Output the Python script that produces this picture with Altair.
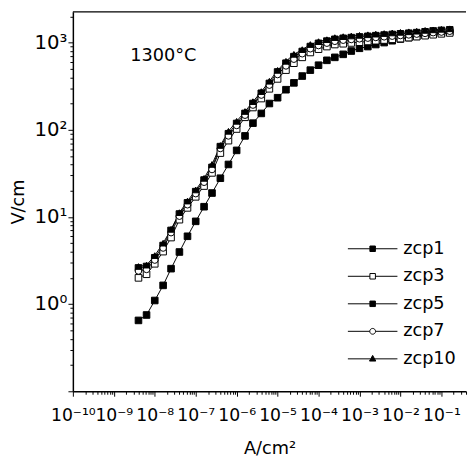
import json
import altair as alt
import pandas as pd

# ---- data ----
current = [4.0e-9, 6.3e-9, 1.0e-8, 1.6e-8, 2.5e-8, 4.0e-8, 6.3e-8, 1.0e-7, 1.6e-7, 2.5e-7,
           4.0e-7, 6.3e-7, 1.0e-6, 1.6e-6, 2.5e-6, 4.0e-6, 6.3e-6, 1.0e-5, 1.6e-5, 2.5e-5,
           4.0e-5, 6.3e-5, 1.0e-4, 1.6e-4, 2.5e-4, 4.0e-4, 6.3e-4, 1.0e-3, 1.6e-3, 2.5e-3,
           4.0e-3, 6.3e-3, 1.0e-2, 1.6e-2, 2.5e-2, 4.0e-2, 6.3e-2, 1.0e-1, 1.6e-1]

zcp1 = [0.65, 0.75, 1.1, 1.64, 2.55, 3.96, 6.0, 8.9, 13.1, 18.8,
        27.8, 40, 58, 85, 119, 154, 200, 233, 288, 345,
        413, 483, 550, 626, 677, 733, 800, 860, 900, 950,
        1000, 1050, 1100, 1140, 1180, 1220, 1260, 1290, 1330]
zcp3 = [2.0, 2.2, 2.9, 4.0, 5.8, 9.3, 12.7, 17, 22.6, 32,
        54, 75, 102, 139, 180, 228, 295, 383, 483, 580,
        677, 770, 840, 900, 950, 970, 990, 1010, 1030, 1050,
        1070, 1090, 1110, 1140, 1170, 1200, 1230, 1260, 1290]
zcp5 = [2.6, 2.7, 3.4, 4.7, 7.0, 10.8, 14.5, 19.5, 26.5, 37,
        64, 90, 118, 154, 200, 262, 340, 460, 580, 690,
        790, 900, 980, 1040, 1090, 1120, 1140, 1160, 1180, 1200,
        1220, 1240, 1260, 1280, 1300, 1330, 1360, 1380, 1400]
zcp7 = [2.4, 2.5, 3.2, 4.4, 6.6, 10.2, 13.8, 18.5, 25, 35,
        61, 85, 112, 147, 192, 250, 325, 430, 540, 645,
        745, 850, 925, 985, 1035, 1065, 1085, 1105, 1125, 1145,
        1165, 1185, 1205, 1225, 1250, 1275, 1300, 1320, 1350]
zcp10 = [2.7, 2.8, 3.6, 5.0, 7.2, 11.2, 15.2, 20.4, 27.7, 40,
         66, 96, 125, 162, 210, 274, 360, 480, 610, 733,
         830, 950, 1025, 1080, 1140, 1170, 1190, 1210, 1230, 1250,
         1270, 1290, 1310, 1330, 1350, 1380, 1400, 1420, 1440]

series_names = ["zcp1", "zcp3", "zcp5", "zcp7", "zcp10"]
series_values = [zcp1, zcp3, zcp5, zcp7, zcp10]
annotation = "1300°C"

x_tick_labels = ["10⁻¹⁰", "10⁻⁹", "10⁻⁸", "10⁻⁷", "10⁻⁶", "10⁻⁵", "10⁻⁴", "10⁻³", "10⁻²", "10⁻¹"]
y_tick_labels = ["", "10⁰", "10¹", "10²", "10³"]

# ---- table ----
rows = []
for name, vals in zip(series_names, series_values):
    for c, v in zip(current, vals):
        rows.append({"series": name, "current": c, "field": v})
df = pd.DataFrame(rows)

# ---- styling ----
FONT = "DejaVu Sans"
W, H = 400, 386

x_ticks = [m * 10.0 ** e for e in range(-10, 0) for m in range(1, 10) if m * 10.0 ** e <= 0.4]
y_ticks = [m * 10.0 ** e for e in range(-1, 4) for m in range(1, 10) if m * 10.0 ** e <= 2200]

LOG = "(log(datum.value)/LN10)"
DEC = f"abs({LOG} - round({LOG})) < 0.001"

x_axis = alt.Axis(
    title="A/cm²", values=x_ticks,
    labelExpr=f"{DEC} ? {json.dumps(x_tick_labels, ensure_ascii=False)}[round({LOG})+10] : ''",
    tickSize={"condition": {"test": DEC, "value": 5}, "value": 3},
    labelFontSize=17.5, labelPadding=11, titleFontSize=18, titlePadding=16,
    labelOverlap=False, labelFlush=False, labelBound=False, grid=False,
)
y_axis = alt.Axis(
    title="V/cm", values=y_ticks,
    labelExpr=f"{DEC} ? {json.dumps(y_tick_labels, ensure_ascii=False)}[round({LOG})+1] : ''",
    tickSize={"condition": {"test": DEC, "value": 5}, "value": 3},
    labelFontSize=20, labelPadding=1, titleFontSize=18, titlePadding=7,
    labelOverlap=False, labelFlush=False, labelBound=False, grid=False,
)

x_scale = alt.Scale(type="log", domain=[1e-10, 0.4], nice=False)
y_scale = alt.Scale(type="log", domain=[0.1, 2250], nice=False)

X = alt.X("current:Q", scale=x_scale, axis=x_axis)
Y = alt.Y("field:Q", scale=y_scale, axis=y_axis)

base = alt.Chart(df)

lines = base.mark_line(color="black", strokeWidth=1).encode(x=X, y=Y, detail="series:N")

fill_range = ["black", "white", "black", "white", "black"]
stroke_range = ["black", "black", "black", "black", "black"]
plot_shapes = ["square", "square", "square", "circle", "triangle-up"]

points = base.mark_point(filled=True, stroke="black", strokeWidth=1, size=45, opacity=1).encode(
    x=X, y=Y,
    shape=alt.Shape("series:N", scale=alt.Scale(domain=series_names, range=plot_shapes), legend=None),
    fill=alt.Fill("series:N", scale=alt.Scale(domain=series_names, range=fill_range), legend=None),
)

legend_paths = [
    "M-3.6,0H-0.4M0.4,0H3.6M-0.4,-0.4H0.4V0.4H-0.4Z",
    "M-3.6,0H-0.4M0.4,0H3.6M-0.4,-0.4H0.4V0.4H-0.4Z",
    "M-3.6,0H-0.4M0.4,0H3.6M-0.4,-0.4H0.4V0.4H-0.4Z",
    "M-3.6,0H-0.42M0.42,0H3.6M0.42,0A0.42,0.42,0,1,1,-0.42,0A0.42,0.42,0,1,1,0.42,0Z",
    "M-3.6,0H-0.3M0.3,0H3.6M0,-0.5L0.46,0.32H-0.46Z",
]
leg = alt.Legend(
    title=None, orient="none", legendX=296, legendY=232, padding=0,
    symbolSize=196, symbolStrokeWidth=1, symbolOpacity=1,
    labelFont=FONT, labelFontSize=18, labelColor="black", labelOffset=22, rowPadding=10,
)
legend_layer = base.mark_point(filled=True, strokeWidth=1, opacity=0).encode(
    x=X, y=Y,
    shape=alt.Shape("series:N", scale=alt.Scale(domain=series_names, range=legend_paths), legend=leg),
    fill=alt.Fill("series:N", scale=alt.Scale(domain=series_names, range=fill_range), legend=leg),
    stroke=alt.Stroke("series:N", scale=alt.Scale(domain=series_names, range=stroke_range), legend=leg),
)

top_border = alt.Chart(alt.Data(values=[{}])).mark_rule(color="black", strokeWidth=1.2).encode(
    x=alt.value(0), x2=alt.value(W), y=alt.value(0)
)

label = alt.Chart(alt.Data(values=[{"t": annotation}])).mark_text(
    font=FONT, fontSize=18, color="black", align="center", baseline="middle"
).encode(text="t:N", x=alt.value(92), y=alt.value(45))

chart = (
    alt.layer(lines, points, legend_layer, top_border, label)
    .resolve_scale(shape="independent", fill="independent", stroke="independent")
    .properties(width=W, height=H, autosize=alt.AutoSizeParams(type="none"),
                padding={"left": 66, "top": 0, "right": 2, "bottom": 68})
    .configure_view(stroke=None)
    .configure_axis(domainColor="black", domainWidth=1.5, tickColor="black", tickWidth=1,
                    labelColor="black", titleColor="black", labelFont=FONT, titleFont=FONT,
                    titleFontWeight="normal")
)

chart.save("out.html", embed_options={"renderer": "svg", "actions": False})
